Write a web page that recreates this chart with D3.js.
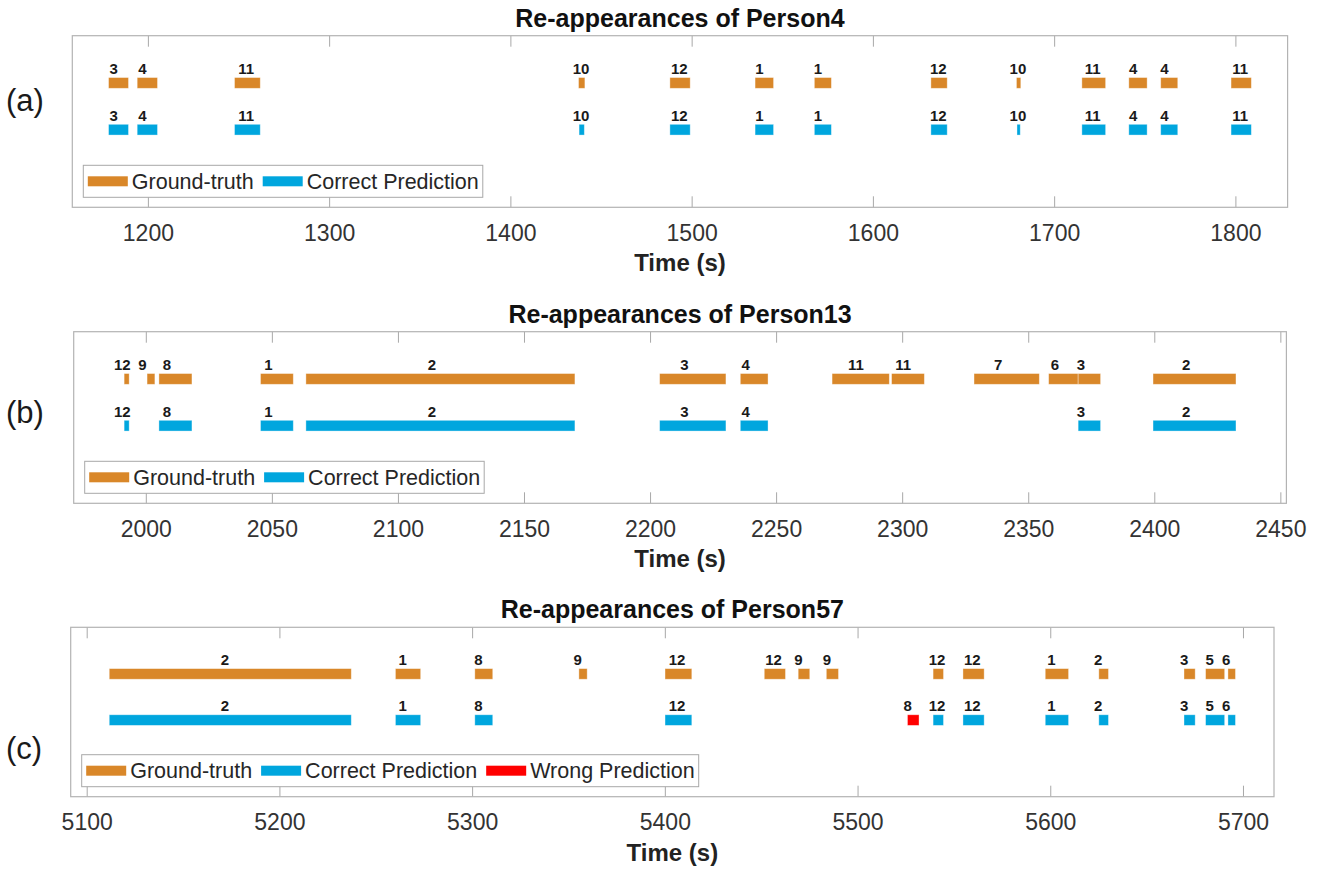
<!DOCTYPE html>
<html>
<head>
<meta charset="utf-8">
<script src="https://cdn.jsdelivr.net/npm/d3@7/dist/d3.min.js"></script>
<style>
  body { margin: 0; background: #fff; }
  text { font-family: "Liberation Sans", Arial, Helvetica, sans-serif; }
</style>
</head>
<body>
<svg id="chart" width="1318" height="869"></svg>
<script>
// [start (s), end (s), camera id]
const person4Truth = [
  [1178.3, 1189.3, 3], [1194.1, 1205.3, 4], [1247.8, 1262.0, 11], [1437.6, 1441.1, 10],
  [1488.0, 1499.2, 12], [1535.0, 1545.2, 1], [1567.7, 1577.1, 1], [1632.0, 1641.0, 12],
  [1679.2, 1681.6, 10], [1715.3, 1728.4, 11], [1741.2, 1751.3, 4], [1758.8, 1768.2, 4],
  [1797.6, 1808.8, 11]
];
const person4Pred = [
  [1178.3, 1189.3, 3], [1194.1, 1205.3, 4], [1247.8, 1262.0, 11], [1437.9, 1440.8, 10],
  [1488.0, 1499.2, 12], [1535.0, 1545.2, 1], [1567.7, 1577.1, 1], [1632.0, 1641.0, 12],
  [1679.5, 1681.3, 10], [1715.3, 1728.4, 11], [1741.2, 1751.3, 4], [1758.8, 1768.2, 4],
  [1797.6, 1808.8, 11]
];
const person4Wrong = [];

const person13Truth = [
  [1991.4, 1993.4, 12], [2000.5, 2003.6, 9], [2005.2, 2018.3, 8], [2045.5, 2058.5, 1],
  [2063.5, 2170.2, 2], [2203.8, 2230.1, 3], [2235.8, 2246.8, 4], [2272.2, 2294.9, 11],
  [2295.8, 2308.8, 11], [2328.5, 2354.4, 7], [2358.1, 2369.8, 6], [2369.8, 2378.7, 3],
  [2399.5, 2432.4, 2]
];
const person13Pred = [
  [1991.4, 1993.4, 12], [2005.2, 2018.3, 8], [2045.5, 2058.5, 1], [2063.5, 2170.2, 2],
  [2203.8, 2230.1, 3], [2235.8, 2246.8, 4], [2369.8, 2378.7, 3], [2399.5, 2432.4, 2]
];
const person13Wrong = [];

const person57Truth = [
  [5111.7, 5237.3, 2], [5260.2, 5273.3, 1], [5301.4, 5310.7, 8], [5355.4, 5359.7, 9],
  [5400.1, 5414.0, 12], [5451.6, 5462.6, 12], [5469.2, 5475.2, 9], [5483.8, 5490.1, 9],
  [5539.2, 5544.6, 12], [5554.7, 5565.7, 12], [5597.4, 5609.5, 1], [5625.2, 5630.2, 2],
  [5669.4, 5675.2, 3], [5680.6, 5690.5, 5], [5692.2, 5696.1, 6]
];
const person57Pred = [
  [5111.7, 5237.3, 2], [5260.2, 5273.3, 1], [5301.4, 5310.7, 8], [5400.1, 5414.0, 12],
  [5539.2, 5544.6, 12], [5554.7, 5565.7, 12], [5597.4, 5609.5, 1], [5625.2, 5630.2, 2],
  [5669.4, 5675.2, 3], [5680.6, 5690.5, 5], [5692.2, 5696.1, 6]
];
const person57Wrong = [[5525.9, 5531.9, 8]];

const ticks4 = [1200, 1300, 1400, 1500, 1600, 1700, 1800];
const ticks13 = [2000, 2050, 2100, 2150, 2200, 2250, 2300, 2350, 2400, 2450];
const ticks57 = [5100, 5200, 5300, 5400, 5500, 5600, 5700];

const titles = ['Re-appearances of Person4', 'Re-appearances of Person13', 'Re-appearances of Person57'];
const tags = ['(a)', '(b)', '(c)'];
const seriesNames = ['Ground-truth', 'Correct Prediction', 'Wrong Prediction'];

const colors = { truth: '#D98729', pred: '#00A6DE', wrong: '#FF0000' };

const svg = d3.select('#chart');

const panels = [
  { truth: person4Truth, pred: person4Pred, wrong: person4Wrong, ticks: ticks4,
    left: 72.3, right: 1287.6, top: 35.7, bottom: 207.3, tagY: 100, legendItems: 2 },
  { truth: person13Truth, pred: person13Pred, wrong: person13Wrong, ticks: ticks13,
    left: 73.7, right: 1286.4, top: 331.7, bottom: 503.3, tagY: 412, legendItems: 2 },
  { truth: person57Truth, pred: person57Pred, wrong: person57Wrong, ticks: ticks57,
    left: 70.7, right: 1274, top: 627.3, bottom: 796.7, tagY: 748, legendItems: 3 }
];

panels.forEach((p, i) => {
  const all = p.truth.concat(p.pred, p.wrong);
  // axis limits: 20 s of padding around the events
  const x = d3.scaleLinear()
    .domain([d3.min(all, d => d[0]) - 20, d3.max(all, d => d[1]) + 20])
    .range([p.left, p.right]);
  // row 0 = ground truth, row 1 = prediction
  const y = d3.scaleLinear().domain([-1.01, 2.66]).range([p.top, p.bottom]);
  const barH = y(0.115) - y(-0.115);

  const g = svg.append('g');

  // top / bottom ticks, inward
  const axB = d3.axisBottom(x).tickValues(p.ticks).tickSize(-11).tickPadding(17).tickFormat(d3.format('d'));
  const axT = d3.axisTop(x).tickValues(p.ticks).tickSize(-11).tickFormat('');
  const gB = g.append('g').attr('transform', `translate(0,${p.bottom})`).call(axB);
  const gT = g.append('g').attr('transform', `translate(0,${p.top})`).call(axT);
  [gB, gT].forEach(a => {
    a.select('.domain').remove();
    a.selectAll('line').attr('stroke', '#a8a8a8');
  });
  gB.selectAll('text')
    .attr('font-size', 23)
    .attr('fill', '#333')
    .style('font-family', '"Liberation Sans", Arial, sans-serif');

  // bars
  const rows = [
    { data: p.truth, row: 0, color: colors.truth },
    { data: p.pred, row: 1, color: colors.pred },
    { data: p.wrong, row: 1, color: colors.wrong }
  ];
  rows.forEach(r => {
    g.selectAll(null).data(r.data).enter().append('rect')
      .attr('x', d => x(d[0]))
      .attr('y', y(r.row) - barH / 2)
      .attr('width', d => x(d[1]) - x(d[0]))
      .attr('height', barH)
      .attr('fill', r.color)
      .attr('stroke', '#fff')
      .attr('stroke-opacity', 0.45)
      .attr('stroke-width', 0.8);

    g.selectAll(null).data(r.data).enter().append('text')
      .attr('x', d => x((d[0] + d[1]) / 2 - 5))
      .attr('y', y(r.row) - barH / 2 - 3.7)
      .attr('font-size', 15)
      .attr('font-weight', 'bold')
      .attr('fill', '#1a1a1a')
      .text(d => d[2]);
  });

  // axes box
  g.append('rect')
    .attr('x', p.left).attr('y', p.top)
    .attr('width', p.right - p.left).attr('height', p.bottom - p.top)
    .attr('fill', 'none').attr('stroke', '#b3b3b3').attr('stroke-width', 1.2);

  // legend
  const lg = g.append('g').attr('transform', `translate(${p.left + 11},${p.bottom - 10 - 32})`);
  const lgBox = lg.append('rect')
    .attr('height', 32).attr('fill', '#fff').attr('stroke', '#a8a8a8').attr('stroke-width', 1);
  const swatchColors = [colors.truth, colors.pred, colors.wrong];
  let cx = 4.5;
  for (let k = 0; k < p.legendItems; k++) {
    lg.append('rect')
      .attr('x', cx).attr('y', 11).attr('width', 40).attr('height', 10)
      .attr('fill', swatchColors[k]);
    cx += 44;
    const t = lg.append('text')
      .attr('x', cx).attr('y', 23.8)
      .attr('font-size', 21.5).attr('fill', '#262626')
      .text(seriesNames[k]);
    cx += t.node().getComputedTextLength() + (k < p.legendItems - 1 ? 9 : 4);
  }
  lgBox.attr('width', cx);

  // title, x label, panel tag
  const mid = (p.left + p.right) / 2;
  g.append('text')
    .attr('x', mid).attr('y', p.top - 9)
    .attr('text-anchor', 'middle')
    .attr('font-size', 25).attr('font-weight', 'bold').attr('fill', '#111')
    .text(titles[i]);
  g.append('text')
    .attr('x', mid).attr('y', p.bottom + 64)
    .attr('text-anchor', 'middle')
    .attr('font-size', 24).attr('font-weight', 'bold').attr('fill', '#222')
    .text('Time (s)');
  g.append('text')
    .attr('x', 6).attr('y', p.tagY)
    .attr('dominant-baseline', 'central')
    .attr('font-size', 31).attr('fill', '#1a1a1a')
    .text(tags[i]);
});
</script>
</body>
</html>
